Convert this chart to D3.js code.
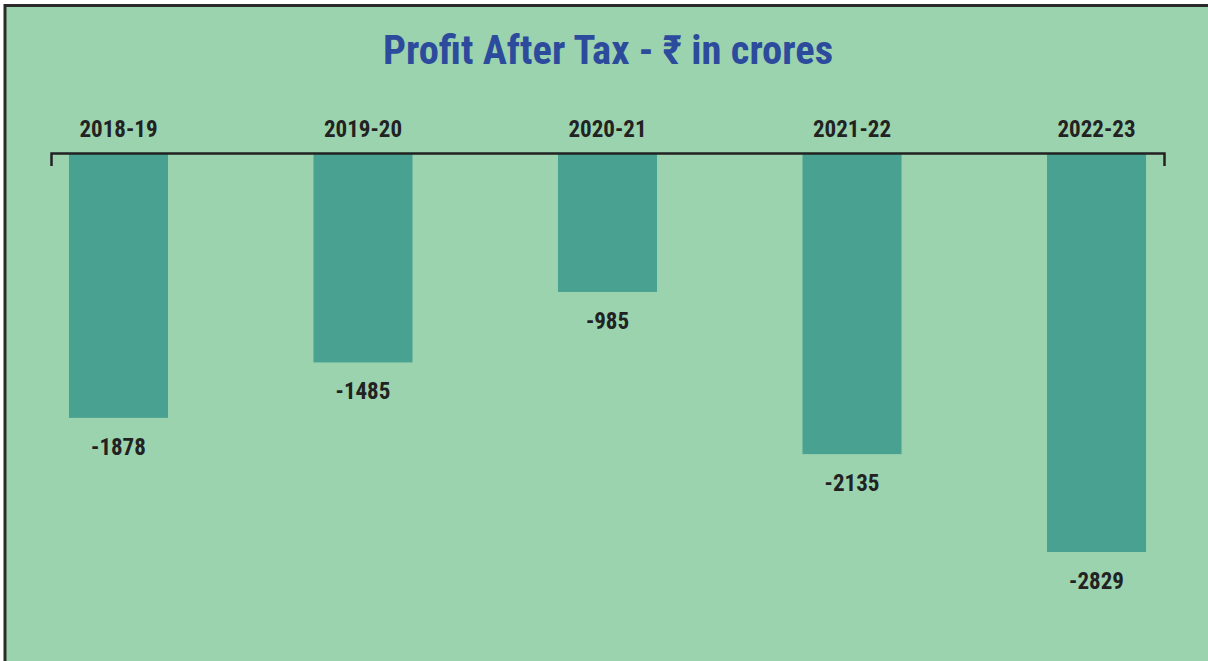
<!DOCTYPE html>
<html><head><meta charset="utf-8">
<script src="https://cdn.jsdelivr.net/npm/d3@7"></script>
<style>body{margin:0;background:#fff;}svg{display:block;}</style>
</head><body>
<script>
const categories = ["2018-19","2019-20","2020-21","2021-22","2022-23"];
const values = [-1878,-1485,-985,-2135,-2829];
const title = "Profit After Tax - \u20B9 in crores";

const W=1208,H=661;
const font='"Liberation Sans Narrow","Roboto Condensed","Arial Narrow",sans-serif';
const svg=d3.select("body").append("svg").attr("width",W).attr("height",H);
svg.append("rect").attr("width",W).attr("height",H).attr("fill","#ffffff");
svg.append("rect").attr("x",5).attr("y",5.5).attr("width",W+10).attr("height",H+10)
  .attr("fill","#9AD3AE").attr("stroke","#2a2a2a").attr("stroke-width",3);

const x=d3.scaleBand().domain(categories).range([51,1164]).paddingInner(0.595).paddingOuter(0.0735);
const y=d3.scaleLinear().domain([0,-2829]).range([153,552]);

svg.append("text").attr("x",608).attr("y",64).attr("text-anchor","middle")
  .attr("font-family",font).attr("font-weight","bold").attr("font-size",40.5)
  .attr("fill","#2D4B9C").text(title);

svg.selectAll("rect.bar").data(values).join("rect").attr("class","bar")
  .attr("x",(d,i)=>x(categories[i])).attr("width",x.bandwidth())
  .attr("y",y(0)).attr("height",d=>y(d)-y(0)).attr("fill","#49A291");

const ax=svg.append("g").attr("transform",`translate(0,${y(0)})`)
  .call(d3.axisTop(x).tickSize(0).tickSizeOuter(-13).tickPadding(16));
ax.select(".domain").attr("stroke","#222").attr("stroke-width",2.5);
ax.selectAll(".tick text").attr("font-family",font).attr("font-weight","bold")
  .attr("font-size",23).attr("fill","#222");

svg.selectAll("text.val").data(values).join("text").attr("class","val")
  .attr("x",(d,i)=>x(categories[i])+x.bandwidth()/2).attr("y",d=>y(d)+37)
  .attr("text-anchor","middle").attr("font-family",font).attr("font-weight","bold")
  .attr("font-size",23).attr("fill","#222").text(d=>d);
</script>
</body></html>
